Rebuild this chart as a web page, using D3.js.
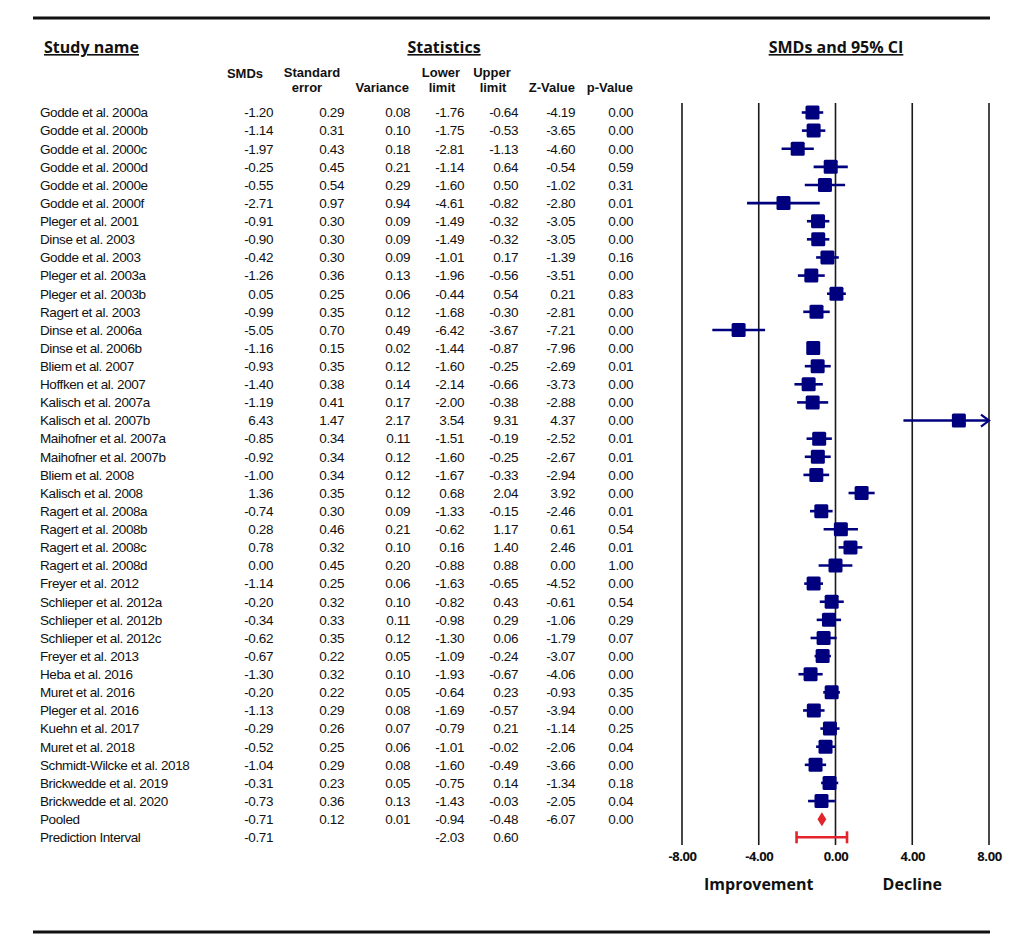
<!DOCTYPE html>
<html>
<head>
<meta charset="utf-8">
<script src="https://cdn.jsdelivr.net/npm/d3@7/dist/d3.min.js"></script>
<style>
body {margin:0; background:#fff;}
.tbl {font-family:'Liberation Sans',Arial,sans-serif; font-size:13.5px; letter-spacing:-0.4px; fill:#111;}
.colhead {font-family:'Liberation Sans',Arial,sans-serif; font-size:13px; font-weight:bold; fill:#111;}
.title {font-family:'Open Sans',sans-serif; font-size:16px; font-weight:bold; fill:#111; text-decoration:underline;}
.axlab {font-family:'Open Sans',sans-serif; font-size:16px; font-weight:bold; fill:#111;}
.tick text {font-family:'Open Sans',sans-serif; font-size:13px; font-weight:bold; fill:#111; letter-spacing:-0.4px;}
</style>
</head>
<body>
<svg id="chart" width="1024" height="952"></svg>
<script>
var names=['Godde et al. 2000a','Godde et al. 2000b','Godde et al. 2000c','Godde et al. 2000d','Godde et al. 2000e','Godde et al. 2000f',
	'Pleger et al. 2001','Dinse et al. 2003','Godde et al. 2003','Pleger et al. 2003a','Pleger et al. 2003b','Ragert et al. 2003',
	'Dinse et al. 2006a','Dinse et al. 2006b','Bliem et al. 2007','Hoffken et al. 2007','Kalisch et al. 2007a','Kalisch et al. 2007b',
	'Maihofner et al. 2007a','Maihofner et al. 2007b','Bliem et al. 2008','Kalisch et al. 2008','Ragert et al. 2008a','Ragert et al. 2008b',
	'Ragert et al. 2008c','Ragert et al. 2008d','Freyer et al. 2012','Schlieper et al. 2012a','Schlieper et al. 2012b','Schlieper et al. 2012c',
	'Freyer et al. 2013','Heba et al. 2016','Muret et al. 2016','Pleger et al. 2016','Kuehn et al. 2017','Muret et al. 2018',
	'Schmidt-Wilcke et al. 2018','Brickwedde et al. 2019','Brickwedde et al. 2020','Pooled','Prediction Interval'];
var smd=[-1.20,-1.14,-1.97,-0.25,-0.55,-2.71,-0.91,-0.90,-0.42,-1.26,0.05,-0.99,-5.05,-1.16,-0.93,-1.40,-1.19,6.43,-0.85,-0.92,
	-1.00,1.36,-0.74,0.28,0.78,0.00,-1.14,-0.20,-0.34,-0.62,-0.67,-1.30,-0.20,-1.13,-0.29,-0.52,-1.04,-0.31,-0.73,-0.71,-0.71];
var stderr=[0.29,0.31,0.43,0.45,0.54,0.97,0.30,0.30,0.30,0.36,0.25,0.35,0.70,0.15,0.35,0.38,0.41,1.47,0.34,0.34,
	0.34,0.35,0.30,0.46,0.32,0.45,0.25,0.32,0.33,0.35,0.22,0.32,0.22,0.29,0.26,0.25,0.29,0.23,0.36,0.12,null];
var variance=[0.08,0.10,0.18,0.21,0.29,0.94,0.09,0.09,0.09,0.13,0.06,0.12,0.49,0.02,0.12,0.14,0.17,2.17,0.11,0.12,
	0.12,0.12,0.09,0.21,0.10,0.20,0.06,0.10,0.11,0.12,0.05,0.10,0.05,0.08,0.07,0.06,0.08,0.05,0.13,0.01,null];
var lower=[-1.76,-1.75,-2.81,-1.14,-1.60,-4.61,-1.49,-1.49,-1.01,-1.96,-0.44,-1.68,-6.42,-1.44,-1.60,-2.14,-2.00,3.54,-1.51,-1.60,
	-1.67,0.68,-1.33,-0.62,0.16,-0.88,-1.63,-0.82,-0.98,-1.30,-1.09,-1.93,-0.64,-1.69,-0.79,-1.01,-1.60,-0.75,-1.43,-0.94,-2.03];
var upper=[-0.64,-0.53,-1.13,0.64,0.50,-0.82,-0.32,-0.32,0.17,-0.56,0.54,-0.30,-3.67,-0.87,-0.25,-0.66,-0.38,9.31,-0.19,-0.25,
	-0.33,2.04,-0.15,1.17,1.40,0.88,-0.65,0.43,0.29,0.06,-0.24,-0.67,0.23,-0.57,0.21,-0.02,-0.49,0.14,-0.03,-0.48,0.60];
var zval=[-4.19,-3.65,-4.60,-0.54,-1.02,-2.80,-3.05,-3.05,-1.39,-3.51,0.21,-2.81,-7.21,-7.96,-2.69,-3.73,-2.88,4.37,-2.52,-2.67,
	-2.94,3.92,-2.46,0.61,2.46,0.00,-4.52,-0.61,-1.06,-1.79,-3.07,-4.06,-0.93,-3.94,-1.14,-2.06,-3.66,-1.34,-2.05,-6.07,null];
var pval=[0.00,0.00,0.00,0.59,0.31,0.01,0.00,0.00,0.16,0.00,0.83,0.00,0.00,0.00,0.01,0.00,0.00,0.00,0.01,0.01,
	0.00,0.00,0.01,0.54,0.01,1.00,0.00,0.54,0.29,0.07,0.00,0.00,0.35,0.00,0.25,0.04,0.00,0.18,0.04,0.00,null];
var xticks=[-8,-4,0,4,8];

var NAVY='#00007f';
var RED='#e3242b';

var svg=d3.select('#chart');
var n_rows=names.length;
var n_studies=n_rows-2;

var yScale=d3.scalePoint()
	.domain(d3.range(n_rows))
	.range([112.5,837.3]);
var xScale=d3.scaleLinear()
	.domain([-8,8])
	.range([682,989]);

// plain hyphen instead of the unicode minus d3 uses
var fmt=function(v) {return v.toFixed(2);};

// rules top and bottom
svg.append('line').attr('x1',33).attr('x2',990).attr('y1',18).attr('y2',18)
	.attr('stroke','#111').attr('stroke-width',3);
svg.append('line').attr('x1',33).attr('x2',990).attr('y1',932).attr('y2',932)
	.attr('stroke','#111').attr('stroke-width',3);

// section titles
svg.append('text').attr('class','title').attr('x',44).attr('y',53).text('Study name');
svg.append('text').attr('class','title').attr('x',444).attr('y',53).attr('text-anchor','middle').text('Statistics');
svg.append('text').attr('class','title').attr('x',836).attr('y',53).attr('text-anchor','middle').text('SMDs and 95% CI');

// column headers
var cols=[
	{x:273,vals:smd,h:['SMDs'],hx:263,hy:[78]},
	{x:344,vals:stderr,h:['Standard','error'],hx:340,hy:[77,92]},
	{x:410,vals:variance,h:['Variance'],hx:409,hy:[92]},
	{x:464,vals:lower,h:['Lower','limit'],hx:462,hy:[77,92]},
	{x:518,vals:upper,h:['Upper','limit'],hx:513,hy:[77,92]},
	{x:575,vals:zval,h:['Z-Value'],hx:575,hy:[92]},
	{x:633,vals:pval,h:['p-Value'],hx:633,hy:[92]}
];
cols.forEach(function(c) {
	c.h.forEach(function(line,k) {
		var t=svg.append('text').attr('class','colhead').attr('y',c.hy[k]).text(line);
		if (c.h.length==2) {
			t.attr('x',k==0?c.hx-(line=='Standard'?28:21):c.hx-(line=='error'?33:20)).attr('text-anchor','middle');
		}
		else t.attr('x',c.hx).attr('text-anchor','end');
	});
});

// table body
var rows=svg.append('g');
for (var i=0; i<n_rows; i++) {
	var yy=yScale(i)+4.8;
	rows.append('text').attr('class','tbl').attr('x',40).attr('y',yy).text(names[i]);
	cols.forEach(function(c) {
		var v=c.vals[i];
		if (v===null) return;
		rows.append('text').attr('class','tbl').attr('x',c.x).attr('y',yy)
			.attr('text-anchor','end').text(fmt(v));
	});
}

// vertical reference lines
svg.append('g').selectAll('line').data(xticks).enter().append('line')
	.attr('x1',function(d) {return xScale(d);})
	.attr('x2',function(d) {return xScale(d);})
	.attr('y1',103).attr('y2',845)
	.attr('stroke','#1a1a1a').attr('stroke-width',1.6);

// axis labels
var xAxis=d3.axisBottom(xScale).tickValues(xticks).tickFormat(fmt).tickSize(0).tickPadding(0);
var ax=svg.append('g').attr('transform','translate(0,851)').call(xAxis);
ax.select('.domain').remove();
ax.selectAll('.tick text').attr('dy','0.75em').attr('y',0);

svg.append('text').attr('class','axlab').attr('x',xScale(-4)).attr('y',890).attr('text-anchor','middle').text('Improvement');
svg.append('text').attr('class','axlab').attr('x',xScale(4)).attr('y',890).attr('text-anchor','middle').text('Decline');

// study CIs and squares
var studies=d3.range(n_studies);
var g=svg.append('g');
var xmin=xScale.domain()[0], xmax=xScale.domain()[1];
g.selectAll('.ci').data(studies).enter().append('line')
	.attr('class','ci')
	.attr('x1',function(i) {return xScale(Math.max(lower[i],xmin));})
	.attr('x2',function(i) {return xScale(Math.min(upper[i],xmax));})
	.attr('y1',function(i) {return yScale(i);})
	.attr('y2',function(i) {return yScale(i);})
	.attr('stroke',NAVY).attr('stroke-width',2.6);

// arrows for CIs running off the plot
g.selectAll('.arrow').data(studies.filter(function(i) {return upper[i]>xmax;})).enter().append('path')
	.attr('class','arrow')
	.attr('d',function(i) {
		var x=xScale(xmax), y=yScale(i);
		return 'M'+(x-8)+','+(y-6)+'L'+x+','+y+'L'+(x-8)+','+(y+6);
	})
	.attr('fill','none').attr('stroke',NAVY).attr('stroke-width',2.2);

var sq=14;
g.selectAll('.sq').data(studies).enter().append('rect')
	.attr('class','sq')
	.attr('x',function(i) {return xScale(smd[i])-sq/2;})
	.attr('y',function(i) {return yScale(i)-sq/2;})
	.attr('width',sq).attr('height',sq)
	.attr('rx',1.5)
	.attr('fill',NAVY);

// pooled diamond
var ip=n_rows-2;
var yp=yScale(ip);
g.append('path')
	.attr('d','M'+xScale(lower[ip])+','+yp+'L'+xScale(smd[ip])+','+(yp-7)+'L'+xScale(upper[ip])+','+yp+'L'+xScale(smd[ip])+','+(yp+7)+'Z')
	.attr('fill',RED);

// prediction interval
var ipi=n_rows-1;
var ypi=yScale(ipi);
var pi=g.append('g').attr('stroke',RED).attr('stroke-width',2.6);
pi.append('line').attr('x1',xScale(lower[ipi])).attr('x2',xScale(upper[ipi])).attr('y1',ypi).attr('y2',ypi);
[lower[ipi],upper[ipi]].forEach(function(v) {
	pi.append('line').attr('x1',xScale(v)).attr('x2',xScale(v)).attr('y1',ypi-6).attr('y2',ypi+6);
});
</script>
</body>
</html>
